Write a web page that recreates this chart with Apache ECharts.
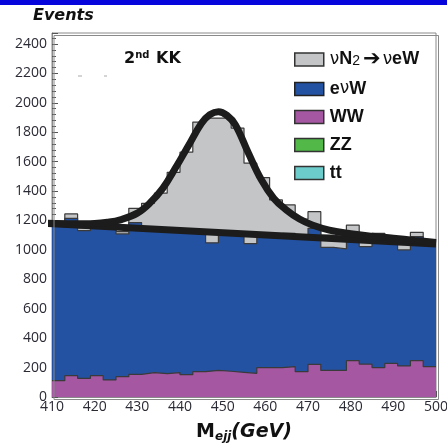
<!DOCTYPE html>
<html>
<head>
<meta charset="utf-8">
<script src="https://cdn.jsdelivr.net/npm/echarts@6/dist/echarts.min.js"></script>
<style>
  html, body { margin: 0; padding: 0; background: #fff; }
  #chart { width: 447px; height: 445px; }
</style>
</head>
<body>
<div id="chart"></div>
<script>
// ---- data (3 GeV bins, 410-500) ----
const binLow = [410, 413, 416, 419, 422, 425, 428, 431, 434, 437,
                440, 443, 446, 449, 452, 455, 458, 461, 464, 467,
                470, 473, 476, 479, 482, 485, 488, 491, 494, 497];
const binEnd = 500;

const signal = [8, 30, 19, 3, 7, 15, 97, 177, 246, 378,
                535, 749, 848, 781, 718, 547, 392, 245, 193, 125,
                113, 83, 83, 93, 52, 48, 7, 50, 30, 5];
const enuW = [1059, 1070, 1004, 1020, 1039, 971, 1032, 974, 981, 984,
              978, 948, 867, 940, 942, 882, 900, 895, 907, 913,
              925, 836, 826, 828, 799, 865, 829, 789, 843, 834];
const WW = [111, 145, 127, 145, 116, 138, 154, 166, 159, 166,
            152, 172, 181, 175, 168, 161, 200, 200, 206, 172,
            222, 181, 181, 247, 224, 200, 229, 211, 247, 206];
const ZZ = [0, 0, 0, 0, 0, 0, 0, 0, 0, 0, 0, 0, 0, 0, 0,
            0, 0, 0, 0, 0, 0, 0, 0, 0, 0, 0, 0, 0, 0, 0];
const tt = [0, 0, 0, 0, 0, 0, 0, 0, 0, 0, 0, 0, 0, 0, 0,
            0, 0, 0, 0, 0, 0, 0, 0, 0, 0, 0, 0, 0, 0, 0];

// fitted curves (read as points along the thick black lines)
const fitSigX = [409, 415, 420, 423, 426, 430, 433, 436, 439, 442, 445, 447, 449,
                 451, 453, 456, 459, 462, 465, 468, 471, 475, 480, 485, 490, 495, 500];
const fitSigY = [1181, 1178, 1180, 1188, 1205, 1250, 1320, 1420, 1560, 1710, 1860, 1920, 1940,
                 1915, 1850, 1660, 1480, 1350, 1270, 1210, 1170, 1135, 1110, 1093, 1080, 1065, 1050];
const fitBkgX = [409, 500];
const fitBkgY = [1179, 1041];

const xTicks = { min: 410, max: 500, step: 10 };
const yTicks = { min: 0, max: 2475, step: 200 };

// ---- stacking (drawn ROOT-style: total first, then each sub-stack on top) ----
function add(a, b) { return a.map((v, i) => v + b[i]); }
const ttTop = tt.slice();
const zzTop = add(ttTop, ZZ);
const wwTop = add(zzTop, WW);
const bkgTop = add(wwTop, enuW);
const totTop = add(bkgTop, signal);

function steps(top) {
  const d = binLow.map((x, i) => [x, top[i]]);
  d.push([binEnd, top[top.length - 1]]);
  return d;
}

const colors = {
  sig: '#c3c5c7',
  enuW: '#2452a2',
  WW: '#a557a1',
  ZZ: '#52b848',
  tt: '#6ccccc',
  edge: '#3a3a3a'
};

function histSeries(name, top, color, z, hideEdge) {
  return {
    name: name,
    type: 'line',
    step: 'end',
    data: steps(top),
    symbol: 'none',
    z: z,
    silent: true,
    lineStyle: { color: colors.edge, width: hideEdge ? 0 : 1.2, opacity: hideEdge ? 0 : 1 },
    itemStyle: { color: color },
    areaStyle: { color: color, opacity: hideEdge ? 0 : 1 },
    emphasis: { disabled: true }
  };
}

const sigName = 'sig';
const chart = echarts.init(document.getElementById('chart'));

const option = {
  animation: false,
  grid: { left: 52, right: 11, top: 33, bottom: 48, show: true, outerBoundsMode: 'none',
          backgroundColor: '#fff', borderColor: '#8a8a8a', borderWidth: 1 },
  xAxis: {
    type: 'value', min: xTicks.min, max: xTicks.max, interval: xTicks.step,
    axisLine: { show: true, lineStyle: { color: '#8a8a8a' } },
    axisTick: { show: true, inside: true, length: 6, lineStyle: { color: '#555' } },
    splitLine: { show: false },
    axisLabel: { margin: 3, color: '#2a2a35', fontFamily: 'Open Sans', fontSize: 14 },
    name: '{m|M}{s|ejj}{g|(GeV)}',
    nameLocation: 'middle', nameGap: 24,
    nameTextStyle: {
      rich: {
        m: { fontFamily: 'DejaVu Sans', fontWeight: 'bold', fontSize: 19, color: '#111' },
        s: { fontFamily: 'DejaVu Sans', fontWeight: 'bold', fontStyle: 'italic', fontSize: 12, color: '#111', padding: [10, 0, 0, 0] },
        g: { fontFamily: 'DejaVu Sans', fontWeight: 'bold', fontStyle: 'italic', fontSize: 19, color: '#111' }
      }
    }
  },
  yAxis: {
    type: 'value', min: yTicks.min, max: yTicks.max, interval: yTicks.step,
    axisLine: { show: true, lineStyle: { color: '#8a8a8a' } },
    axisTick: { show: true, inside: true, length: 6, lineStyle: { color: '#555' } },
    minorTick: { show: true, splitNumber: 5, length: 4, lineStyle: { color: '#555' } },
    splitLine: { show: false },
    axisLabel: {
      margin: 5, color: '#2a2a35', fontFamily: 'Open Sans', fontSize: 14,
      formatter: v => (v % yTicks.step === 0 ? String(v) : '')
    }
  },
  legend: {
    orient: 'vertical', left: 289, top: 44,
    itemWidth: 29, itemHeight: 13, itemGap: 10,
    selectedMode: false,
    textStyle: {
      fontFamily: 'Liberation Sans', fontWeight: 'bold', fontSize: 18, color: '#111', padding: [0, 0, 0, 1],
      rich: {
        nu: { fontFamily: 'DejaVu Sans', fontWeight: 'normal', fontSize: 17, color: '#111' },
        b: { fontFamily: 'Liberation Sans', fontWeight: 'bold', fontSize: 18, color: '#111' },
        two: { fontFamily: 'Liberation Sans', fontWeight: 'normal', fontSize: 14, color: '#111', padding: [4, 0, 0, 0] },
        ar: { fontFamily: 'DejaVu Sans', fontWeight: 'bold', fontSize: 21, color: '#111', padding: [0, 2, 0, 3] }
      }
    },
    formatter: function (name) {
      if (name === sigName) return '{nu|ν}{b|N}{two|2}{ar|➔}{nu|ν}{b|eW}';
      if (name === 'enuW') return '{b|e}{nu|ν}{b|W}';
      if (name === 'ttbar') return '{b|tt}';
      return '{b|' + name + '}';
    },
    data: [
      { name: sigName, icon: 'rect', itemStyle: { color: colors.sig, borderColor: '#333', borderWidth: 1.5 } },
      { name: 'enuW', icon: 'rect', itemStyle: { color: colors.enuW, borderColor: '#222', borderWidth: 1.5 } },
      { name: 'WW', icon: 'rect', itemStyle: { color: colors.WW, borderColor: '#333', borderWidth: 1.5 } },
      { name: 'ZZ', icon: 'rect', itemStyle: { color: colors.ZZ, borderColor: '#333', borderWidth: 1.5 } },
      { name: 'ttbar', icon: 'rect', itemStyle: { color: colors.tt, borderColor: '#333', borderWidth: 1.5 } }
    ]
  },
  series: [
    histSeries(sigName, totTop, colors.sig, 2),
    histSeries('enuW', bkgTop, colors.enuW, 3),
    histSeries('WW', wwTop, colors.WW, 4),
    histSeries('ZZ', zzTop, colors.ZZ, 5, true),
    histSeries('ttbar', ttTop, colors.tt, 6, true),
    {
      name: 'fitBkg', type: 'line', data: fitBkgX.map((x, i) => [x, fitBkgY[i]]),
      symbol: 'none', z: 10, silent: true,
      lineStyle: { color: '#1c1c1c', width: 7 }
    },
    {
      name: 'fitSig', type: 'line', data: fitSigX.map((x, i) => [x, fitSigY[i]]),
      symbol: 'none', smooth: 0.4, z: 11, silent: true,
      lineStyle: { color: '#1c1c1c', width: 7 }
    }
  ],
  graphic: [
    { type: 'rect', left: 0, top: 0, shape: { width: 447, height: 5 }, style: { fill: '#0505dc' }, z: 100 },
    { type: 'rect', left: 51.5, top: 33, shape: { width: 384.5, height: 364 },
      style: { fill: 'none', stroke: '#8a8a8a', lineWidth: 1 }, z: 100, silent: true },
    { type: 'text', left: 33, top: 8, z: 100,
      style: { text: 'Events', fontFamily: 'DejaVu Sans', fontWeight: 'bold', fontStyle: 'italic', fontSize: 16, fill: '#111' } },
    { type: 'text', left: 124, top: 50, z: 100,
      style: {
        text: '{n|2}{sup|nd}  {n|KK}',
        rich: {
          n: { fontFamily: 'DejaVu Sans', fontWeight: 'bold', fontSize: 16, fill: '#111' },
          sup: { fontFamily: 'DejaVu Sans', fontWeight: 'bold', fontSize: 10, fill: '#111', padding: [0, 0, 8, 0] }
        }
      } },
    { type: 'line', shape: { x1: 78, y1: 76, x2: 82, y2: 76 }, style: { stroke: '#aaa', lineWidth: 1 }, z: 100 },
    { type: 'line', shape: { x1: 104, y1: 76, x2: 107, y2: 76 }, style: { stroke: '#aaa', lineWidth: 1 }, z: 100 }
  ]
};

chart.setOption(option);
</script>
</body>
</html>
